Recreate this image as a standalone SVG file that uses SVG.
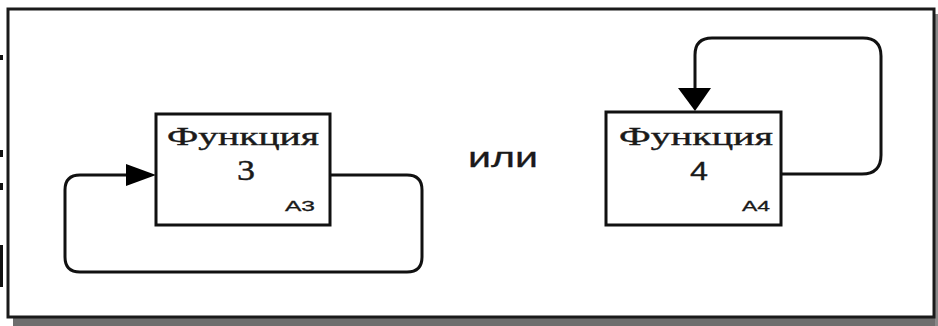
<svg xmlns="http://www.w3.org/2000/svg" width="938" height="326" viewBox="0 0 938 326">
<style>
.frame{fill:#fff;stroke:#1a1a1a;stroke-width:3}
.box{fill:#fff;stroke:#111;stroke-width:3}
.conn{fill:none;stroke:#111;stroke-width:3;stroke-linejoin:round}
.t{font-family:"Liberation Serif","Times New Roman",serif;fill:#1a1a1a;stroke:#1a1a1a;stroke-width:0.4;text-anchor:middle}
.s{font-family:"Liberation Sans",Arial,sans-serif;fill:#1a1a1a;stroke:#1a1a1a;stroke-width:0.3;text-anchor:middle}
.mark{fill:#111}
</style>
<rect width="938" height="326" fill="#fff"/>
<g id="shadow">
<rect x="13" y="318" width="925" height="8" fill="#6e6e6e"/>
<rect x="935" y="14" width="3" height="312" fill="#8a8a8a"/>
</g>
<g id="frame">
<rect class="frame" x="8" y="9" width="926" height="308"/>
</g>
<g id="marks">
<rect class="mark" x="0" y="55" width="3" height="5"/>
<rect class="mark" x="0" y="150" width="3" height="7"/>
<rect class="mark" x="0" y="183" width="3" height="7"/>
<rect class="mark" x="0" y="245" width="3" height="42"/>
</g>
<g id="connectors">
<path class="conn" d="M330,175 H407 Q422,175 422,190 V257 Q422,272 407,272 H80 Q65,272 65,257 V190 Q65,175 80,175 H128"/>
<path d="M126,164 L156,175 L126,186 Z" fill="#000"/>
<path class="conn" d="M781,174 H862 Q881,174 881,155 V56 Q881,38 863,38 H712 Q695,38 695,55 V88"/>
<path d="M678,88 L711,88 L695,111 Z" fill="#000"/>
</g>
<g id="node-3">
<rect class="box" x="156" y="114" width="174" height="111"/>
<text class="t" x="243" y="145" font-size="25" textLength="152" lengthAdjust="spacingAndGlyphs">Функция</text>
<text class="t" x="246" y="180" font-size="30" textLength="18" lengthAdjust="spacingAndGlyphs">3</text>
<text class="s" x="300" y="211" font-size="14" textLength="30" lengthAdjust="spacingAndGlyphs">A3</text>
</g>
<g id="or-label">
<text class="s" x="503" y="167" font-size="28" textLength="70" lengthAdjust="spacingAndGlyphs">или</text>
</g>
<g id="node-4">
<rect class="box" x="606" y="112" width="175" height="113"/>
<text class="t" x="696" y="145" font-size="25" textLength="154" lengthAdjust="spacingAndGlyphs">Функция</text>
<text class="s" x="699" y="180" font-size="25" textLength="18" lengthAdjust="spacingAndGlyphs">4</text>
<text class="s" x="756" y="211" font-size="14" textLength="28" lengthAdjust="spacingAndGlyphs">A4</text>
</g>
</svg>
